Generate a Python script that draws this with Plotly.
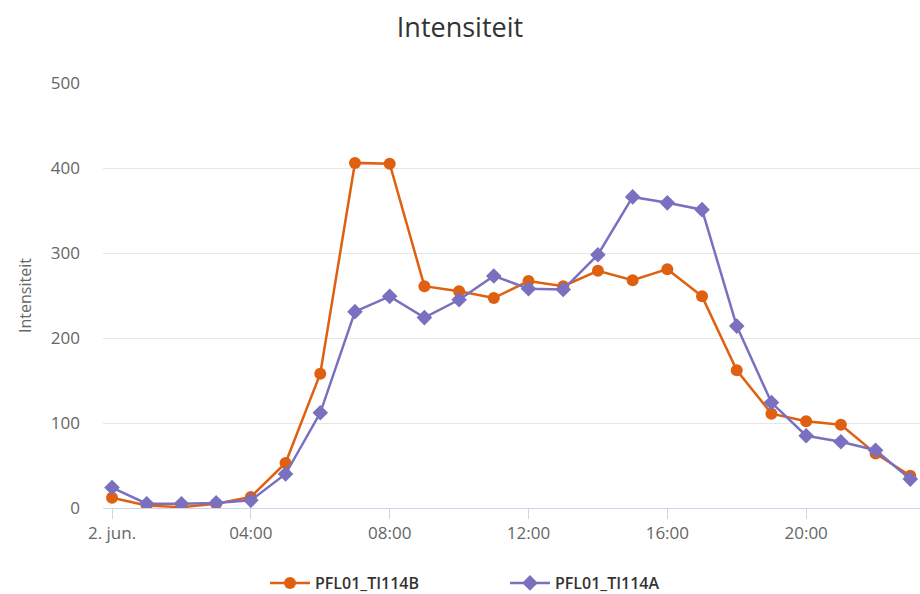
import plotly.graph_objects as go

hours = list(range(24))
tick_hours = [0, 4, 8, 12, 16, 20]
tick_labels = ["2. jun.", "04:00", "08:00", "12:00", "16:00", "20:00"]

ti114b = [12, 3, 1, 5, 13, 53, 158, 406, 405, 261, 255, 247, 267, 261, 279, 268, 281, 249, 162, 111, 102, 98, 64, 38]
ti114a = [24, 5, 5, 6, 9, 40, 112, 231, 249, 224, 245, 273, 258, 257, 298, 366, 359, 351, 214, 124, 85, 78, 68, 34]

orange = "#de6010"
purple = "#7a70c0"
font_family = "Open Sans, Liberation Sans, sans-serif"

fig = go.Figure()
fig.add_trace(go.Scatter(
    x=hours, y=ti114b, name="PFL01_TI114B", mode="lines+markers",
    line=dict(color=orange, width=2.5),
    marker=dict(symbol="circle", size=12, color=orange),
))
fig.add_trace(go.Scatter(
    x=hours, y=ti114a, name="PFL01_TI114A", mode="lines+markers",
    line=dict(color=purple, width=2.5),
    marker=dict(symbol="diamond", size=12, color=purple),
))

fig.update_layout(
    width=920, height=594,
    margin=dict(l=103, r=0, t=83, b=86, autoexpand=False),
    paper_bgcolor="white", plot_bgcolor="white",
    font=dict(family=font_family, color="#666666", size=16),
    title=dict(text="Intensiteit", x=0.5, xref="container", xanchor="center",
               y=1 - 28 / 594, yref="container", yanchor="middle",
               font=dict(size=27, color="#333333", family=font_family)),
    showlegend=True,
    legend=dict(orientation="h", xref="container", x=265 / 920, xanchor="left",
                yref="container", y=(594 - 583) / 594, yanchor="middle",
                font=dict(size=16, color="#333333", weight=600),
                itemwidth=40, entrywidth=185),
    xaxis=dict(
        range=[-0.26, 23.28], tickvals=tick_hours, ticktext=tick_labels,
        showgrid=False, zeroline=False, showline=True, linecolor="#ccd6eb", linewidth=1,
        ticks="outside", ticklen=10, tickcolor="#ccd6eb", automargin=False,
        ticklabelstandoff=0, tickfont=dict(size=17, color="#666666"),
    ),
    yaxis=dict(
        range=[0, 500], tickvals=[0, 100, 200, 300, 400, 500],
        showgrid=True, gridcolor="#e6e6e6", gridwidth=1, zeroline=False, showline=False,
        automargin=False, ticklabelstandoff=22, tickfont=dict(size=17, color="#666666"),
        title=dict(text="Intensiteit", font=dict(size=16, color="#666666")),
    ),
)

fig.write_html("out.html", config={"displayModeBar": False},
               post_script="document.body.style.margin='0';document.body.style.overflow='hidden';")
